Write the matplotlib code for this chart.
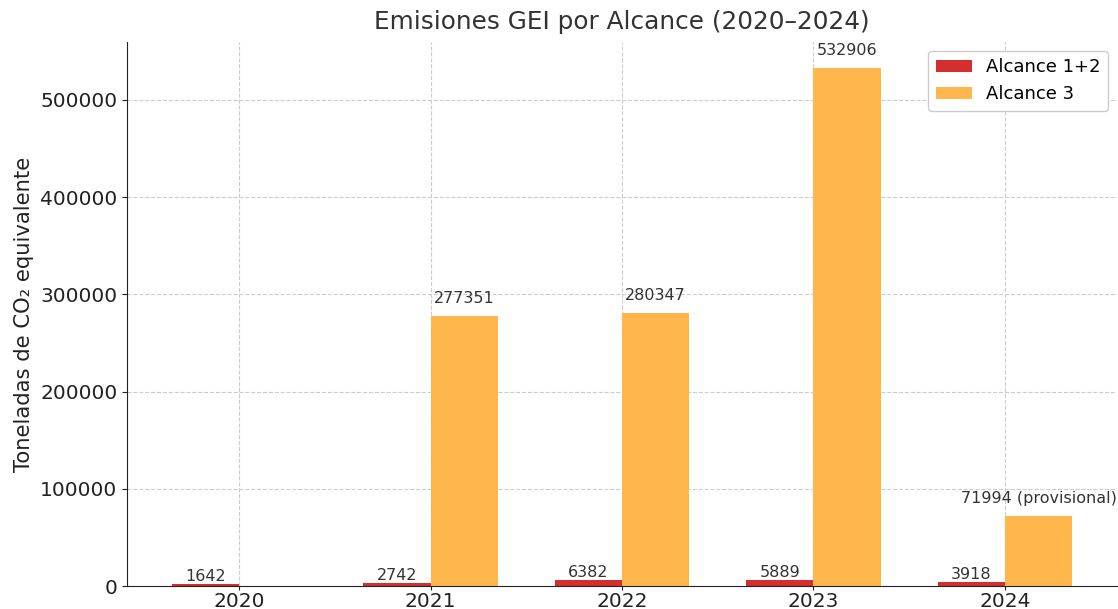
import matplotlib
matplotlib.use("Agg")
import matplotlib.pyplot as plt
import numpy as np

years = ["2020", "2021", "2022", "2023", "2024"]
alcance12 = [1642, 2742, 6382, 5889, 3918]
alcance3 = [np.nan, 277351, 280347, 532906, 71994]
labels3 = ["", "277351", "280347", "532906", "71994 (provisional)"]

fig = plt.figure(figsize=(11.18, 6.09), dpi=100)
ax = fig.add_axes([127/1118, 1 - 586/609, (1117-127)/1118, (586-42)/609])

x = np.arange(len(years))
w = 0.35
ax.bar(x - w/2, alcance12, w, color="#d32f2f", label="Alcance 1+2", zorder=2)
ax.bar(x + w/2, np.nan_to_num(alcance3), w, color="#ffb74d", label="Alcance 3", zorder=2)

for xi, v in zip(x, alcance12):
    ax.text(xi - w/2, v, str(v), ha="center", va="bottom", fontsize=11.5, color="#333333")
for xi, v, lab in zip(x, alcance3, labels3):
    if lab:
        ax.text(xi + w/2, v + 10500, lab, ha="center", va="bottom", fontsize=11.5, color="#333333")

ax.set_xticks(x)
ax.set_xticklabels(years)
ax.set_ylim(0, np.nanmax(alcance3) * 1.05)
ax.set_xlim(-0.585, 4.585)
ax.tick_params(axis="both", labelsize=14.5, colors="#222222")
ax.tick_params(axis="x", length=3, pad=1)
ax.grid(True, linestyle="--", color="#cccccc", linewidth=0.8, zorder=0)
ax.set_axisbelow(True)
for s in ["top", "right"]:
    ax.spines[s].set_visible(False)
ax.spines["left"].set_color("#222222")
ax.spines["bottom"].set_color("#222222")
ax.set_ylabel("Toneladas de CO₂ equivalente", fontsize=15.2, color="#222222", labelpad=4.5)
ax.set_title("Emisiones GEI por Alcance (2020–2024)", fontsize=17.8, color="#333333", pad=9)
ax.legend(loc="upper right", fontsize=13, framealpha=1, edgecolor="#cccccc")

fig.savefig("out.png", dpi=100)
